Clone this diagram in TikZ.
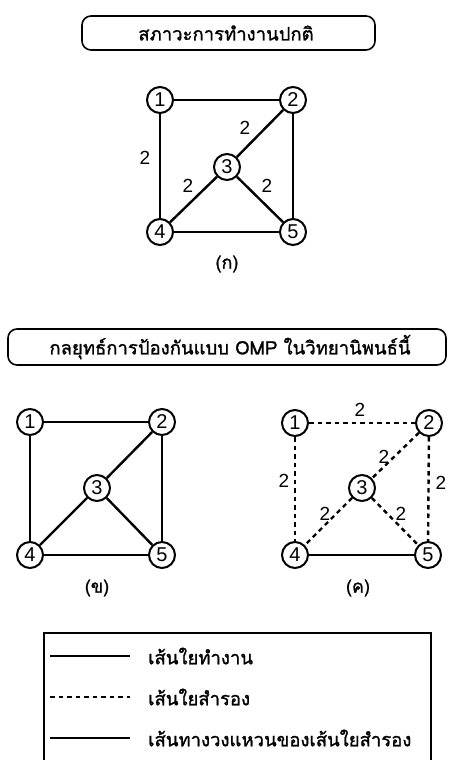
\documentclass[tikz,border=0pt]{standalone}
\usepackage{fontspec}
\setmainfont{Liberation Sans}
\newfontfamily\thaifont[Script=Thai,FakeBold=1.2]{Loma}
\begin{document}
\begin{tikzpicture}[x=1pt,y=-1pt,
  vnode/.style={circle,draw,line width=2pt,inner sep=0pt,minimum size=26pt,font=\fontsize{20}{20}\selectfont},
  work/.style={line width=2.4pt},
  spare/.style={line width=2.4pt,dash pattern=on 4.5pt off 4pt},
  ring/.style={line width=2.2pt},
  elab/.style={font=\fontsize{19}{19}\selectfont,inner sep=0pt},
  subcap/.style={font=\thaifont\fontsize{18}{18}\selectfont,inner sep=0pt},
  titlebox/.style={draw,line width=1.6pt,rounded corners=9pt},
  ttext/.style={font=\thaifont\fontsize{18.5}{18.5}\selectfont,inner sep=0pt}]
\useasboundingbox (0,0) rectangle (449,760);
\fill[white] (0,0) rectangle (449,760);

% title 1
\draw[titlebox] (82,16) rectangle (375,50);
\node[ttext] (t1) at (226,33) {สภาวะการทำงานปกติ};

% graph (a)
\node[vnode] (a1) at (160,100) {1};
\node[vnode] (a2) at (293,100) {2};
\node[vnode] (a3) at (227,167) {3};
\node[vnode] (a4) at (160,232) {4};
\node[vnode] (a5) at (293,232) {5};
\draw[work] (a1) -- (a2);
\draw[work] (a1) -- (a4);
\draw[work] (a2) -- (a5);
\draw[work] (a4) -- (a5);
\draw[work] (a2) -- (a3);
\draw[work] (a3) -- (a4);
\draw[work] (a3) -- (a5);
\node[elab] (la14) at (145,158) {2};
\node[elab] (la23) at (245,128) {2};
\node[elab] (la34) at (188,186) {2};
\node[elab] (la35) at (267,186) {2};
\node[subcap] (capa) at (227,264) {(ก)};

% title 2
\draw[titlebox] (8,329) rectangle (446,365);
\node[ttext] (t2) at (230,347) {กลยุทธ์การป้องกันแบบ OMP ในวิทยานิพนธ์นี้};

% graph (b)
\node[vnode] (b1) at (30,422) {1};
\node[vnode] (b2) at (162,422) {2};
\node[vnode] (b3) at (97,488) {3};
\node[vnode] (b4) at (30,555) {4};
\node[vnode] (b5) at (162,555) {5};
\draw[work] (b1) -- (b2);
\draw[work] (b1) -- (b4);
\draw[work] (b2) -- (b5);
\draw[work] (b4) -- (b5);
\draw[work] (b2) -- (b3);
\draw[work] (b3) -- (b4);
\draw[work] (b3) -- (b5);
\node[subcap] (capb) at (97,588) {(ข)};

% graph (c)
\node[vnode] (c1) at (295,423) {1};
\node[vnode] (c2) at (429,423) {2};
\node[vnode] (c3) at (362,488) {3};
\node[vnode] (c4) at (295,555) {4};
\node[vnode] (c5) at (428,555) {5};
\draw[spare] (c1) -- (c2);
\draw[spare] (c1) -- (c4);
\draw[spare] (c2) -- (c5);
\draw[spare] (c2) -- (c3);
\draw[spare] (c3) -- (c4);
\draw[spare] (c3) -- (c5);
\draw[ring] (c4) -- (c5);
\node[elab] (lc12) at (360,410) {2};
\node[elab] (lc14) at (284,481) {2};
\node[elab] (lc25) at (441,483) {2};
\node[elab] (lc23) at (384,457) {2};
\node[elab] (lc34) at (325,514) {2};
\node[elab] (lc35) at (401,514) {2};
\node[subcap] (capc) at (358,588) {(ค)};

% legend
\draw[line width=1.6pt] (44,633) rectangle (431,775);
\coordinate (w1) at (50,656);  \coordinate (w2) at (130,656);
\coordinate (s1) at (50,697);  \coordinate (s2) at (130,697);
\coordinate (r1) at (50,738);  \coordinate (r2) at (130,738);
\draw[work] (w1) -- (w2);
\draw[spare] (s1) -- (s2);
\draw[ring] (r1) -- (r2);
\node[ttext,anchor=west] (lw) at (148,656) {เส้นใยทำงาน};
\node[ttext,anchor=west] (ls) at (148,697) {เส้นใยสำรอง};
\node[ttext,anchor=west] (lr) at (148,738) {เส้นทางวงแหวนของเส้นใยสำรอง};
\end{tikzpicture}
\end{document}
